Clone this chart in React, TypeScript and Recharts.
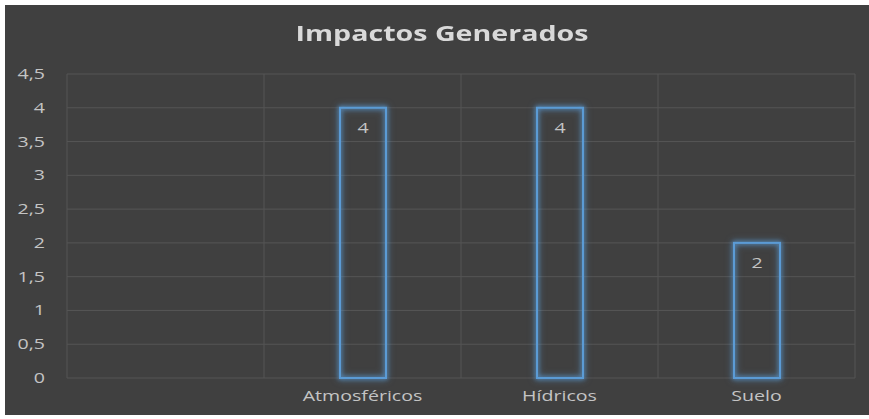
import { BarChart, Bar, XAxis, YAxis, CartesianGrid, LabelList } from "recharts";

const CATEGORIES = ["", "Atmosféricos", "Hídricos", "Suelo"];
const IMPACTOS = [null, 4, 4, 2];
const Y_TICKS = [0, 0.5, 1, 1.5, 2, 2.5, 3, 3.5, 4, 4.5];

const DATA = CATEGORIES.map((name, i) => ({ name, value: IMPACTOS[i] }));

const FONT = "'Open Sans', 'Noto Sans', sans-serif";
const BLUE = "#5B9BD5";
const TEXT = "#c4c4c4";
const STRETCH = 1.4;

const fmt = (v: number) => String(v).replace(".", ",");

function GlowBar(props: any) {
  const { x, y, width, height } = props;
  if (!height) return null;
  return (
    <rect
      x={x + 1}
      y={y}
      width={width - 2}
      height={height}
      fill="none"
      stroke={BLUE}
      strokeWidth={2}
      style={{ filter: `drop-shadow(0 0 2px ${BLUE}) drop-shadow(0 0 3px rgba(91,155,213,0.6))` }}
    />
  );
}

// the original chart is stretched sideways, so ticks are scaled in x
function StretchTick(props: any) {
  const { x, y, payload, textAnchor, dy, format } = props;
  const label = format ? format(payload.value) : payload.value;
  return (
    <g transform={`translate(${x},${y})`}>
      <text
        transform={`scale(${STRETCH},1)`}
        textAnchor={textAnchor}
        dy={dy}
        fill={TEXT}
        fontSize={14}
        fontFamily={FONT}
      >
        {label}
      </text>
    </g>
  );
}

function BarLabel(props: any) {
  const { x, y, width, value } = props;
  if (value == null) return null;
  return (
    <g transform={`translate(${x + width / 2},${y + 25})`}>
      <text transform={`scale(${STRETCH},1)`} textAnchor="middle" fill={TEXT} fontSize={14} fontFamily={FONT}>
        {value}
      </text>
    </g>
  );
}

export default function App() {
  return (
    <div style={{ position: "relative", width: 869, height: 419, background: "#fff", overflow: "hidden" }}>
      <style>{"body{margin:0}"}</style>
      <div
        style={{
          position: "absolute",
          left: 5,
          top: 5,
          width: 864,
          height: 410,
          background: "#404040",
        }}
      />
      <div
        style={{
          position: "absolute",
          top: 17,
          left: 0,
          width: 884,
          textAlign: "center",
          fontFamily: FONT,
          fontWeight: 700,
          fontSize: 22,
          color: "#d9d9d9",
          transform: "scaleX(1.3)",
        }}
      >
        Impactos Generados
      </div>
      <div style={{ position: "absolute", left: 0, top: 0 }}>
        <BarChart
          width={869}
          height={419}
          data={DATA}
          margin={{ top: 74, right: 14, bottom: 11, left: 0 }}
        >
          <CartesianGrid
            stroke="#555555"
            strokeWidth={1}
            verticalCoordinatesGenerator={({ offset }: any) =>
              CATEGORIES.map((_, i) => offset.left + (i * offset.width) / CATEGORIES.length).concat(
                offset.left + offset.width
              )
            }
          />
          <XAxis
            dataKey="name"
            height={30}
            axisLine={false}
            tickLine={false}
            tickSize={0}
            tickMargin={13}
            interval={0}
            tick={<StretchTick dy="0.71em" />}
          />
          <YAxis
            width={67}
            domain={[0, 4.5]}
            ticks={Y_TICKS}
            axisLine={false}
            tickLine={false}
            tickSize={0}
            tickMargin={22}
            tick={<StretchTick dy="0.355em" format={fmt} />}
          />
          <Bar dataKey="value" barSize={48} shape={<GlowBar />} isAnimationActive={false}>
            <LabelList dataKey="value" content={<BarLabel />} />
          </Bar>
        </BarChart>
      </div>
    </div>
  );
}
